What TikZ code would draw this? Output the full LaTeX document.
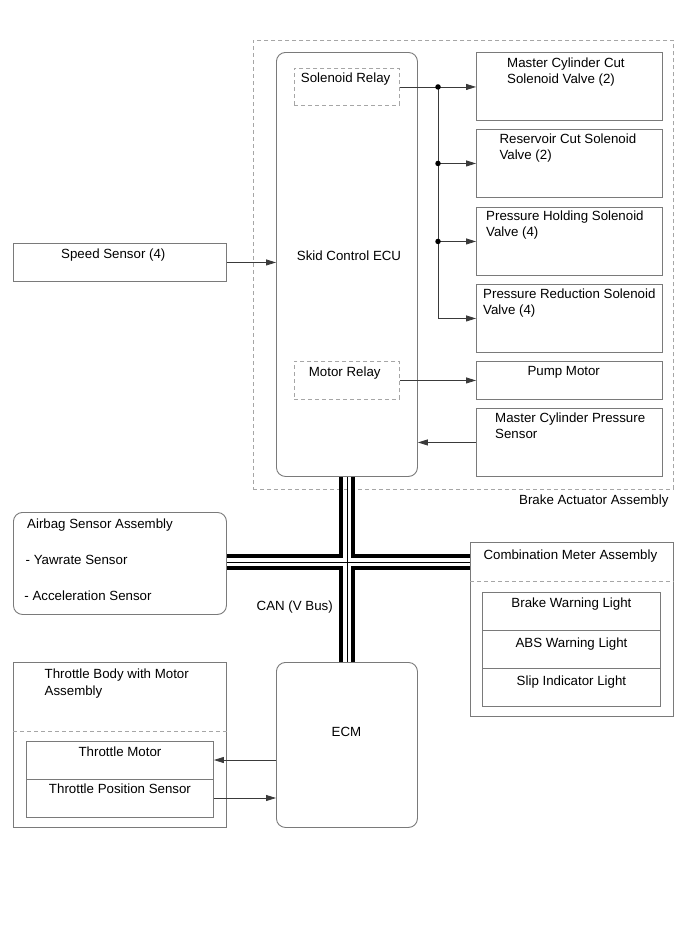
\documentclass[tikz,border=0pt]{standalone}
\usepackage{fontspec}
\setmainfont{Liberation Sans}
\usetikzlibrary{arrows.meta,calc}
\definecolor{boxgray}{HTML}{7A7A7A}
\definecolor{dashgray}{HTML}{A6A6A6}
\definecolor{linegray}{HTML}{3A3A3A}
\begin{document}
\begin{tikzpicture}[x=1pt,y=-1pt,
  box/.style={draw=boxgray,line width=0.9pt,rectangle,anchor=north west,inner sep=0pt},
  rbox/.style={box,rounded corners=9pt},
  dbox/.style={box,draw=dashgray,dash pattern=on 4pt off 3pt},
  dline/.style={draw=dashgray,line width=0.9pt,dash pattern=on 4pt off 3pt},
  sline/.style={draw=boxgray,line width=0.9pt},
  txt/.style={anchor=base west,inner sep=0pt,font=\fontsize{13.3}{16}\selectfont},
  ctxt/.style={txt,anchor=base},
  rtxt/.style={txt,anchor=base east},
  wire/.style={draw=linegray,line width=0.8pt},
  arr/.style={wire,-{Triangle[length=10pt,width=6pt]}},
  jdot/.style={circle,fill=black,inner sep=0pt,minimum size=5.5pt},
  busthick/.style={draw=black,line width=3.5pt,line join=miter},
  busthin/.style={draw=black,line width=0.9pt}]
\useasboundingbox[fill=white] (0,0) rectangle (690,951);

% Brake actuator assembly
\node[dbox,minimum width=420pt,minimum height=449pt] (act) at (253,40) {};
\node[rbox,minimum width=141pt,minimum height=424pt] (ecu) at (276,52) {};
\node[dbox,minimum width=105pt,minimum height=37pt] (solr) at (294,68) {};
\node[dbox,minimum width=105pt,minimum height=38pt] (motr) at (294,361) {};
\node[box,minimum width=186pt,minimum height=68pt] (mcc) at (476,52) {};
\node[box,minimum width=186pt,minimum height=68pt] (rcs) at (476,129) {};
\node[box,minimum width=186pt,minimum height=68pt] (phs) at (476,207) {};
\node[box,minimum width=186pt,minimum height=68pt] (prs) at (476,284) {};
\node[box,minimum width=186pt,minimum height=38pt] (pump) at (476,361) {};
\node[box,minimum width=186pt,minimum height=68pt] (mcps) at (476,408) {};

\node[txt] (tsolr) at (300.7,82) {Solenoid Relay};
\node[txt] (tmotr) at (308.7,376) {Motor Relay};
\node[txt] (tecu) at (296.7,260) {Skid Control ECU};
\node[txt] (tmcc1) at (507,67.3) {Master Cylinder Cut};
\node[txt] (tmcc2) at (507,83.5) {Solenoid Valve (2)};
\node[txt] (trcs1) at (499.3,143) {Reservoir Cut Solenoid};
\node[txt] (trcs2) at (499.3,159) {Valve (2)};
\node[txt] (tphs1) at (486,220) {Pressure Holding Solenoid};
\node[txt] (tphs2) at (486,236) {Valve (4)};
\node[txt] (tprs1) at (483,298.5) {Pressure Reduction Solenoid};
\node[txt] (tprs2) at (483,314.5) {Valve (4)};
\node[txt] (tpump) at (527.3,375) {Pump Motor};
\node[txt] (tmcps1) at (495,422.7) {Master Cylinder Pressure};
\node[txt] (tmcps2) at (495,438.7) {Sensor};
\node[rtxt] (tact) at (668.7,504) {Brake Actuator Assembly};

% solenoid relay branches
\coordinate (br) at (438,0);
\coordinate (br1) at (br |- solr.east);
\draw[arr] (solr.east) -- (solr.east -| mcc.west);
\draw[wire] (br1) -- (br |- prs.west);
\draw[arr] (br |- rcs.west) -- (rcs.west);
\draw[arr] (br |- phs.west) -- (phs.west);
\draw[arr] (br |- prs.west) -- (prs.west);
\node[jdot] (d1) at (br1) {};
\node[jdot] (d2) at (br |- rcs.west) {};
\node[jdot] (d3) at (br |- phs.west) {};
\draw[arr] (motr.east) -- (motr.east -| pump.west);
\draw[arr] (mcps.west) -- (mcps.west -| ecu.east);

% speed sensor
\node[box,minimum width=213pt,minimum height=38pt] (speed) at (13,243) {};
\node[txt] (tspeed) at (61,258.3) {Speed Sensor (4)};
\draw[arr] (speed.east) -- (speed.east -| ecu.west);

% airbag
\node[rbox,minimum width=213pt,minimum height=102pt] (airbag) at (13,512) {};
\node[txt] (tab1) at (27,528.5) {Airbag Sensor Assembly};
\node[txt] (tab2) at (25.5,564) {- Yawrate Sensor};
\node[txt] (tab3) at (24.2,600.5) {- Acceleration Sensor};

% combination meter
\node[box,minimum width=203pt,minimum height=174pt] (combo) at (470,542) {};
\node[txt] (tcombo) at (483.3,559.3) {Combination Meter Assembly};
\draw[dline] ($(combo.north west)+(0,39)$) -- ($(combo.north east)+(0,39)$);
\node[box,minimum width=178pt,minimum height=114pt] (comboin) at (482,592) {};
\draw[sline] ($(comboin.north west)+(0,38)$) -- ($(comboin.north east)+(0,38)$);
\draw[sline] ($(comboin.north west)+(0,76)$) -- ($(comboin.north east)+(0,76)$);
\node[ctxt] (tbwl) at ($(comboin.north)+(0,15.3)$) {Brake Warning Light};
\node[ctxt] (tabs) at ($(comboin.north)+(0,55)$) {ABS Warning Light};
\node[ctxt] (tslip) at ($(comboin.north)+(0,93.5)$) {Slip Indicator Light};

% ECM and throttle body
\node[rbox,minimum width=141pt,minimum height=165pt] (ecm) at (276,662) {};
\node[ctxt] (tecm) at (346.5,736) {ECM};
\node[box,minimum width=213pt,minimum height=165pt] (thr) at (13,662) {};
\node[txt] (tthr1) at (44.5,678.5) {Throttle Body with Motor};
\node[txt] (tthr2) at (44.5,695) {Assembly};
\draw[dline] ($(thr.north west)+(0,69)$) -- ($(thr.north east)+(0,69)$);
\node[box,minimum width=187pt,minimum height=76pt] (thrin) at (26,741) {};
\draw[sline] ($(thrin.north west)+(0,38)$) -- ($(thrin.north east)+(0,38)$);
\node[ctxt] (ttm) at ($(thrin.north)+(0,15)$) {Throttle Motor};
\node[ctxt] (ttps) at ($(thrin.north)+(0,52)$) {Throttle Position Sensor};
\coordinate (tmin) at ($(thrin.north east)+(0,19)$);
\coordinate (tpsout) at ($(thrin.north east)+(0,57)$);
\draw[arr] (tmin -| ecm.west) -- (tmin);
\draw[arr] (tpsout) -- (tpsout -| ecm.west);

% CAN bus
\coordinate (bx) at (346.5,562);
\draw[busthick] ($(ecu.south)+(-6,0)$) |- ($(airbag.east |- bx)+(0,-6)$);
\draw[busthick] ($(ecu.south)+(6,0)$) |- ($(combo.west |- bx)+(0,-6)$);
\draw[busthick] ($(ecm.north)+(-6,0)$) |- ($(airbag.east |- bx)+(0,6)$);
\draw[busthick] ($(ecm.north)+(6,0)$) |- ($(combo.west |- bx)+(0,6)$);
\draw[busthin] (ecu.south) -- (ecm.north);
\draw[busthin] (airbag.east |- bx) -- (combo.west |- bx);
\node[rtxt] (tcan) at (333,610.5) {CAN (V Bus)};
\end{tikzpicture}
\end{document}
